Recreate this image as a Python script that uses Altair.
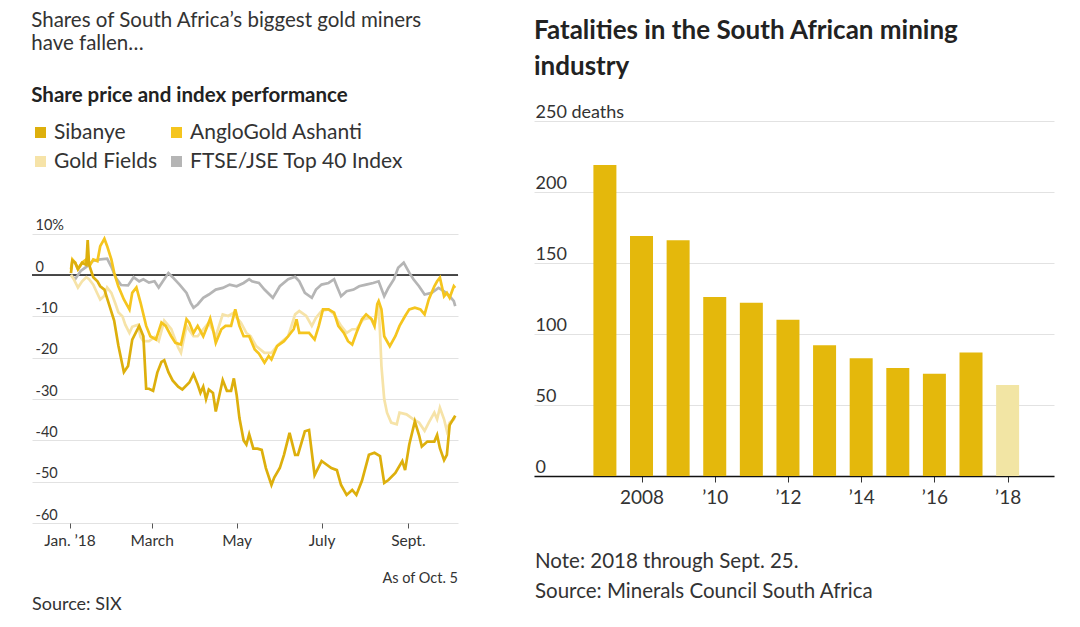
import altair as alt
import pandas as pd

FONT = "Lato"

# ---------------- Left chart data (day offset from Jan 1, 2018 ; % change) ----------------
sib_days = [1, 2, 4, 6, 9, 12, 13, 14, 17, 20, 22, 25, 28, 32, 35, 39, 42, 45, 50, 53, 55, 57, 60, 63, 66, 68,
            71, 74, 78, 81, 86, 89, 92, 94, 96, 98, 100, 103, 105, 107, 110, 113, 116, 118, 120, 122, 125, 127,
            129, 132, 135, 138, 141, 145, 147, 151, 154, 158, 162, 164, 169, 172, 176, 181, 188, 192, 195, 199,
            203, 206, 210, 215, 219, 223, 226, 229, 234, 239, 241, 244, 248, 251, 253, 257, 262, 264, 266, 269,
            271, 273, 276, 277]
sib_vals = [0.5, 3.5, 3, 1.5, 3, 2.5, 8.5, 2.5, -0.5, -1.5, -2.7, -3.5, -6.7, -11, -17, -23.5, -22, -15.6, -12.3,
            -14.8, -27.5, -27.5, -28, -23.6, -21, -20.6, -23.5, -25.5, -27, -27.7, -26, -24, -26.5, -28.5, -27,
            -30, -27.7, -28.5, -33, -30, -25.4, -28, -28, -25, -29, -34.6, -40, -41, -38.5, -42, -42, -42.3,
            -46.7, -50.8, -49, -46.7, -43.5, -38.2, -43.5, -43.5, -37.8, -37.5, -48.4, -45, -46.7, -47.2, -50.8,
            -53.2, -52, -53.2, -49.8, -43.5, -43, -43.8, -50.3, -49.6, -47.9, -45, -47.2, -41, -35.4, -38.7,
            -41.5, -40.3, -40.3, -38.7, -41.9, -44.8, -43.5, -36.3, -34.6, -34]

ang_days = [1, 2, 4, 6, 9, 12, 15, 17, 20, 22, 25, 27, 30, 32, 35, 39, 43, 45, 48, 51, 55, 58, 62, 66, 69, 73,
            76, 80, 84, 86, 89, 92, 96, 99, 101, 103, 105, 109, 112, 116, 119, 122, 125, 129, 133, 136, 140,
            143, 145, 149, 154, 157, 161, 163, 165, 169, 172, 176, 179, 182, 186, 190, 193, 197, 200, 203, 206,
            210, 213, 217, 219, 221, 222, 224, 226, 230, 234, 237, 241, 244, 248, 252, 255, 258, 262, 264, 266,
            269, 271, 273, 276, 277]
ang_vals = [1.4, 3.8, 3, 1.4, 3, 3.8, 2.6, 3.8, 3.4, 7, 8.8, 7, 3.8, 0.6, -2.7, -5.9, -8.3, -4.3, -3, -6.7,
            -12.3, -14.8, -15.6, -11.5, -12.3, -14.8, -16.4, -16.8, -10.7, -11.5, -14, -12.3, -14.8, -12.3,
            -10.5, -13.1, -16.4, -13.1, -12.3, -12.3, -8.3, -12.3, -14.8, -14.8, -18, -19, -21.2, -19.6, -20.4,
            -17.2, -16, -14.8, -13.1, -10.7, -14, -14, -14, -15.6, -12.3, -8.3, -8.3, -9.1, -12.3, -14, -16,
            -16.8, -14, -10.7, -9.5, -10.7, -12.3, -7, -6.3, -8.3, -14.8, -17.2, -14.8, -12.3, -9.9, -8.3, -7.9,
            -8.3, -9.5, -5.9, -2.7, -1.5, -0.6, -5.1, -4.3, -5.5, -2.7, -3.1]

gf_days = [1, 3, 6, 9, 12, 14, 17, 20, 22, 25, 27, 30, 33, 35, 38, 40, 43, 45, 49, 51, 53, 57, 61, 64, 68, 73,
           78, 80, 84, 89, 92, 96, 100, 105, 110, 114, 118, 120, 123, 127, 130, 134, 140, 145, 150, 157, 162,
           165, 170, 174, 177, 181, 186, 190, 195, 199, 203, 206, 211, 216, 219, 222, 223, 224, 226, 228, 231,
           235, 237, 242, 247, 251, 255, 258, 262, 264, 266, 269, 271, 273, 276, 277]
gf_vals = [0, -1, -3, -1.5, -0.5, -1, -2.3, -4.5, -5.9, -5, -3, -4.3, -7, -9, -10, -12, -14, -12.5, -12, -15,
           -16, -16, -15, -16, -11, -13, -17.5, -18.8, -12.3, -14.8, -14.8, -13.1, -11.5, -14.8, -9.5, -9.9,
           -9.1, -10.3, -11.5, -14, -14.8, -17.2, -18.8, -18.8, -16.8, -14.8, -9.5, -8.7, -9.9, -12.3, -10.3,
           -8.7, -8.3, -9.5, -12.3, -14, -13.1, -13.1, -10.7, -10.3, -12.3, -7.5, -14, -22, -30, -33.3, -35.7,
           -36.1, -33.3, -33.7, -34.9, -35.7, -37.7, -35.7, -33.3, -34.9, -32.1, -34.9, -37.7, -35.7, -34.9,
           -34.1]

ftse_days = [1, 4, 8, 12, 17, 22, 27, 30, 33, 37, 42, 46, 50, 53, 57, 61, 64, 67, 71, 74, 79, 84, 87, 89, 92,
             96, 100, 105, 110, 115, 120, 125, 129, 131, 136, 140, 146, 151, 157, 162, 165, 169, 174, 177, 181,
             186, 190, 192, 195, 199, 204, 208, 213, 218, 222, 226, 229, 233, 236, 240, 244, 247, 251, 255, 260,
             265, 269, 273, 276, 277]
ftse_vals = [0, -1, 1, 2, 3.5, 3.8, 4, 2, -0.5, -2.4, -2.5, -0.5, -1.5, -1, -1.8, -1.5, -3, -1.5, 0.5, -0.5,
             -2.3, -4.3, -6.7, -7.9, -7.1, -5.5, -4.7, -3.5, -3.1, -2.3, -2.7, -1.9, -1, -1.5, -1.9, -3.5, -5.5,
             -2.7, -1, -0.4, -1.5, -4.3, -5.5, -3.5, -2.3, -1.9, -1, -2.7, -5.1, -3.9, -3.5, -2.7, -2.3, -1.9,
             -1.5, -5.1, -3.1, -1, 1.8, 3, 0.6, -1, -2.7, -4.7, -4.3, -3.1, -3.9, -5.1, -6.3, -7.5]

series_names = ["Sibanye", "AngloGold Ashanti", "Gold Fields", "FTSE/JSE Top 40 Index"]
series_colors = ["#DDAF0C", "#F5C51E", "#F6E3A8", "#B5B5B5"]

# ---------------- Right chart data ----------------
years = [2007, 2008, 2009, 2010, 2011, 2012, 2013, 2014, 2015, 2016, 2017, 2018]
deaths = [219, 169, 166, 126, 122, 110, 92, 83, 76, 72, 87, 64]

# ---------------- Build tables ----------------
base = pd.Timestamp("2018-01-01")
frames = []
for name, d, v in [("FTSE/JSE Top 40 Index", ftse_days, ftse_vals),
                   ("Gold Fields", gf_days, gf_vals),
                   ("AngloGold Ashanti", ang_days, ang_vals),
                   ("Sibanye", sib_days, sib_vals)]:
    frames.append(pd.DataFrame({"date": base + pd.to_timedelta(d, unit="D"), "pct": v, "series": name}))
lines_df = pd.concat(frames, ignore_index=True)
lines_df["order"] = range(len(lines_df))

fat_df = pd.DataFrame({"year": years, "deaths": deaths})

# ---------------- Left chart ----------------
LW, LH = 426, 402

x_left = alt.X(
    "date:T",
    title=None,
    scale=alt.Scale(domain=[alt.DateTime(year=2017, month=12, date=5),
                            alt.DateTime(year=2018, month=10, date=7)]),
    axis=alt.Axis(
        values=[alt.DateTime(year=2018, month=m, date=1) for m in (1, 3, 5, 7, 9)],
        labelExpr="month(datum.value) == 0 ? 'Jan. \u201918' : month(datum.value) == 2 ? 'March' : "
                  "month(datum.value) == 4 ? 'May' : month(datum.value) == 6 ? 'July' : 'Sept.'",
        domain=False, grid=False, ticks=True, tickColor="#555", tickSize=5,
        labelFontSize=15.5, labelColor="#333", labelPadding=5, labelFont=FONT,
    ),
)
y_left = alt.Y(
    "pct:Q",
    title=None,
    scale=alt.Scale(domain=[-60, 37.3], nice=False, zero=False),
    axis=alt.Axis(
        values=[-60, -50, -40, -30, -20, -10, 0, 10],
        labelExpr="datum.value == 10 ? '\u200810%' : datum.value == 0 ? '\u2008\u20070' : "
                  "'-' + format(abs(datum.value), 'd')",
        domain=False, ticks=False, tickSize=0, labelAlign="left", labelBaseline="alphabetic",
        labelOffset=-4, labelPadding=-3, gridColor="#e2e2e2", gridWidth=1,
        labelFontSize=14.5, labelColor="#333", labelFont=FONT,
    ),
)

zero_rule = alt.Chart(pd.DataFrame({"z": [0]})).mark_rule(color="#111", strokeWidth=1.5).encode(
    y=alt.Y("z:Q")
)

lines = alt.Chart(lines_df).mark_line(strokeWidth=2.7).encode(
    x=x_left,
    y=y_left,
    order="order:Q",
    color=alt.Color(
        "series:N",
        scale=alt.Scale(domain=series_names, range=series_colors),
        legend=alt.Legend(
            title=None, orient="none", legendX=-2, legendY=1, columns=2, direction="horizontal",
            symbolType="square", symbolSize=25, symbolStrokeWidth=6, symbolOpacity=1,
            labelFontSize=21, labelColor="#333", labelFont=FONT, labelOffset=3, labelLimit=400,
            rowPadding=0, columnPadding=5,
        ),
    ),
)

left_notes = alt.Chart(pd.DataFrame({"t": ["As of Oct. 5"]})).mark_text(
    align="right", baseline="middle", fontSize=14.5, color="#333", font=FONT
).encode(text="t:N", x=alt.value(LW), y=alt.value(458))
left_source = alt.Chart(pd.DataFrame({"t": ["Source: SIX"]})).mark_text(
    align="left", baseline="middle", fontSize=18, color="#333", font=FONT
).encode(text="t:N", x=alt.value(0), y=alt.value(484))

left = alt.layer(zero_rule, lines, left_notes, left_source).properties(
    width=LW, height=LH,
    title=alt.TitleParams(
        text=["Shares of South Africa\u2019s biggest gold miners", "have fallen\u2026"],
        subtitle="Share price and index performance",
        anchor="start", font=FONT, fontSize=20.5, fontWeight="normal", color="#333",
        lineHeight=23, subtitleFont=FONT, subtitleFontSize=20.5, subtitleFontWeight="bold",
        subtitleColor="#222", subtitlePadding=31, offset=15,
    ),
)

# ---------------- Right chart ----------------
RW, RH = 520, 355

bars = alt.Chart(fat_df).mark_bar(width=23).encode(
    x=alt.X(
        "year:Q", title=None,
        scale=alt.Scale(domain=[2005.2, 2019.13], nice=False, zero=False),
        axis=alt.Axis(
            values=[2008, 2010, 2012, 2014, 2016, 2018],
            labelExpr="datum.value == 2008 ? '2008' : '\u2019' + substring(toString(datum.value), 2)",
            domain=True, domainColor="#111", domainWidth=1.5, ticks=True, tickColor="#333",
            tickSize=6, grid=False, labelFontSize=19, labelColor="#333", labelPadding=6, labelFont=FONT,
        ),
    ),
    y=alt.Y(
        "deaths:Q", title=None,
        scale=alt.Scale(domain=[0, 250], nice=False),
        axis=alt.Axis(
            values=[0, 50, 100, 150, 200, 250],
            labelExpr="datum.value == 250 ? '250 deaths' : datum.value == 0 ? '\u2007\u20070' : "
                      "datum.value == 50 ? '\u200750' : datum.label",
            domain=False, ticks=False, tickSize=0, labelAlign="left", labelBaseline="alphabetic",
            labelOffset=-4, labelPadding=-1, gridColor="#e2e2e2", gridWidth=1,
            labelFontSize=18, labelColor="#333", labelFont=FONT,
        ),
    ),
    color=alt.condition(alt.datum.year == 2018, alt.value("#F2E5A4"), alt.value("#E4B80C")),
)

right_note = alt.Chart(pd.DataFrame({"t": ["Note: 2018 through Sept. 25."]})).mark_text(
    align="left", baseline="middle", fontSize=20.5, color="#333", font=FONT
).encode(text="t:N", x=alt.value(1), y=alt.value(441))
right_source = alt.Chart(pd.DataFrame({"t": ["Source: Minerals Council South Africa"]})).mark_text(
    align="left", baseline="middle", fontSize=20.5, color="#333", font=FONT
).encode(text="t:N", x=alt.value(1), y=alt.value(471))

right = alt.layer(bars, right_note, right_source).properties(
    width=RW, height=RH,
    title=alt.TitleParams(
        text=["Fatalities in the South African mining", "industry"],
        anchor="start", font=FONT, fontSize=26, fontWeight="bold", color="#222",
        lineHeight=36, offset=23,
    ),
)

chart = (
    alt.hconcat(left, right, spacing=73)
    .properties(padding={"left": 22, "top": 3, "right": 5, "bottom": 5})
    .configure(font=FONT)
    .configure_view(strokeWidth=0)
)

chart.save("out.html", embed_options={"renderer": "svg", "actions": False})
